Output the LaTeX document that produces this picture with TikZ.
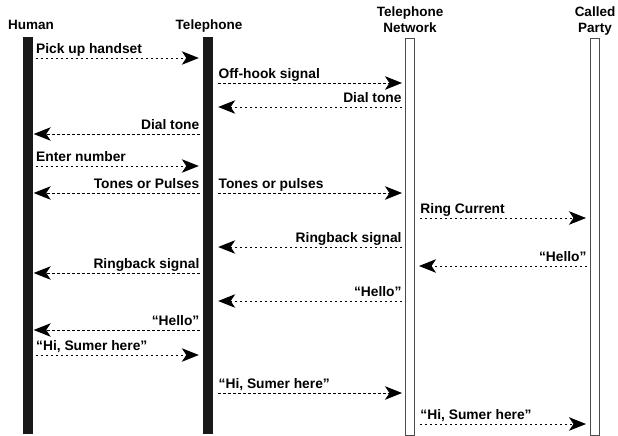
\documentclass[tikz,border=0pt]{standalone}
\usepackage{fontspec}
\setmainfont{Liberation Sans}
\usetikzlibrary{arrows.meta}
\begin{document}
\begin{tikzpicture}[x=1pt,y=-1pt,
 lbl/.style={font=\bfseries\fontsize{13.8}{15}\selectfont, inner sep=0pt},
 rl/.style={lbl, pos=0, anchor=base west, yshift=4.5pt},
 ll/.style={lbl, pos=0, anchor=base east, yshift=4.5pt},
 hdr/.style={font=\bfseries\fontsize{13.5}{16}\selectfont, inner sep=0pt, anchor=base},
 msg/.style={line width=0.9pt, dash pattern=on 2.4pt off 2.6pt, -{Stealth[length=17pt,width=13.5pt,inset=4.5pt]}},
 solidbar/.style={fill=black!90, draw=none, minimum width=10pt, minimum height=397pt, anchor=north, inner sep=0pt},
 hollowbar/.style={fill=white, draw=black!70, line width=1pt, minimum width=9pt, minimum height=396pt, anchor=north, inner sep=0pt},
]
\useasboundingbox (0,0) rectangle (618,436);
% lifelines
\node[solidbar] (hum) at (27.5,37) {};
\node[solidbar] (tel) at (208,37) {};
\node[hollowbar] (net) at (410,38.5) {};
\node[hollowbar] (cal) at (595,38.5) {};
% headers
\node[hdr] (hhum) at (31,29.5) {Human};
\node[hdr] (htel) at (209,29.5) {Telephone};
\node[hdr] (hnet1) at (410,16.5) {Telephone};
\node[hdr] (hnet2) at (410,32.5) {Network};
\node[hdr] (hcal1) at (595,16.5) {Called};
\node[hdr] (hcal2) at (595,32.5) {Party};
% messages
\draw[msg] ([xshift=3pt]hum.east |- 0,58) -- ([xshift=-4pt]tel.west |- 0,58) node[rl] (l1) {Pick up handset};
\draw[msg] ([xshift=5pt]tel.east |- 0,83) -- ([xshift=-3pt]net.west |- 0,83) node[rl] (l2) {Off-hook signal};
\draw[msg] ([xshift=-3pt]net.west |- 0,107) -- ([xshift=5pt]tel.east |- 0,107) node[ll] (l3) {Dial tone};
\draw[msg] ([xshift=-3pt]tel.west |- 0,134) -- ([xshift=1pt]hum.east |- 0,134) node[ll] (l4) {Dial tone};
\draw[msg] ([xshift=3pt]hum.east |- 0,166) -- ([xshift=-4pt]tel.west |- 0,166) node[rl] (l5) {Enter number};
\draw[msg] ([xshift=-3pt]tel.west |- 0,193) -- ([xshift=1pt]hum.east |- 0,193) node[ll] (l6) {Tones or Pulses};
\draw[msg] ([xshift=5pt]tel.east |- 0,193) -- ([xshift=-3pt]net.west |- 0,193) node[rl] (l7) {Tones or pulses};
\draw[msg] ([xshift=5pt]net.east |- 0,218) -- ([xshift=-4pt]cal.west |- 0,218) node[rl] (l8) {Ring Current};
\draw[msg] ([xshift=-3pt]net.west |- 0,247) -- ([xshift=5pt]tel.east |- 0,247) node[ll] (l9) {Ringback signal};
\draw[msg] ([xshift=-3pt]cal.west |- 0,266) -- ([xshift=4pt]net.east |- 0,266) node[ll] (l10) {“Hello”};
\draw[msg] ([xshift=-3pt]tel.west |- 0,273) -- ([xshift=1pt]hum.east |- 0,273) node[ll] (l11) {Ringback signal};
\draw[msg] ([xshift=-3pt]net.west |- 0,301) -- ([xshift=5pt]tel.east |- 0,301) node[ll] (l12) {“Hello”};
\draw[msg] ([xshift=-3pt]tel.west |- 0,330) -- ([xshift=1pt]hum.east |- 0,330) node[ll] (l13) {“Hello”};
\draw[msg] ([xshift=3pt]hum.east |- 0,355) -- ([xshift=-4pt]tel.west |- 0,355) node[rl] (l14) {“Hi, Sumer here”};
\draw[msg] ([xshift=5pt]tel.east |- 0,393) -- ([xshift=-3pt]net.west |- 0,393) node[rl] (l15) {“Hi, Sumer here”};
\draw[msg] ([xshift=5pt]net.east |- 0,424) -- ([xshift=-4pt]cal.west |- 0,424) node[rl] (l16) {“Hi, Sumer here”};
\end{tikzpicture}
\end{document}
